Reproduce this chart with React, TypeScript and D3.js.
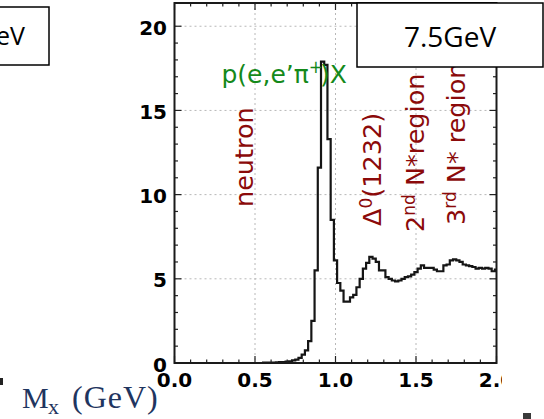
import React, { useEffect, useRef } from "react";
import * as d3 from "d3";

// histogram of missing mass, bins of 0.02 GeV centred on 0.00 ... 2.00
const binStart = -0.01;
const binWidth = 0.02;
const counts: number[] = [
    0, 0, 0, 0, 0, 0, 0, 0, 0, 0,
    0, 0, 0, 0, 0, 0, 0, 0, 0, 0,
    0, 0, 0, 0, 0, 0, 0, 0, 0.02, 0.02,
    0.03, 0.03, 0.04, 0.05, 0.06, 0.08, 0.1, 0.15, 0.2, 0.3,
    0.5, 0.75, 1.3, 2.5, 5.5, 11.6, 17.9, 17.7, 13.3, 8.5,
    6.1, 4.75, 4.3, 3.65, 3.65, 3.9, 4.05, 4.5, 5.0, 5.6,
    5.95, 6.3, 6.2, 6.0, 5.5, 5.5, 5.1, 5.0, 4.9, 4.85,
    4.9, 5.0, 5.1, 5.15, 5.25, 5.4, 5.6, 5.8, 5.65, 5.65,
    5.65, 5.55, 5.45, 5.45, 5.8, 5.85, 6.1, 6.15, 6.1, 6.0,
    5.85, 5.8, 5.75, 5.7, 5.6, 5.65, 5.6, 5.65, 5.6, 5.45,
    5.55,
];

const xTicks = [0, 0.5, 1.0, 1.5, 2.0];
const yTicks = [0, 5, 10, 15, 20];
const regionLabels = ["neutron", "Δ", "2", "3"];
const beamLabel = "7.5GeV";
const leftBoxLabel = "eV";

const W = 544;
const H = 419;

const App: React.FC = () => {
    const svgRef = useRef<SVGSVGElement | null>(null);

    useEffect(() => {
        if (!svgRef.current) return;
        const svg = d3.select(svgRef.current);
        svg.selectAll("*").remove();

        const left = 174.5, right = 496.5, top = 3, bottom = 363;
        const x = d3.scaleLinear().domain([0, 2]).range([left, right]);
        const y = d3.scaleLinear().domain([0, 21.38]).range([bottom, top]);

        const defs = svg.append("defs");
        defs.append("clipPath").attr("id", "fig-clip")
            .append("rect").attr("x", 0).attr("y", 0).attr("width", 502).attr("height", H);
        defs.append("clipPath").attr("id", "plot-clip")
            .append("rect").attr("x", left).attr("y", top).attr("width", right - left).attr("height", bottom - top);

        const fig = svg.append("g").attr("clip-path", "url(#fig-clip)");

        // grid
        const grid = fig.append("g")
            .attr("stroke", "#b8b8b8").attr("stroke-width", 1).attr("stroke-dasharray", "2,3");
        xTicks.slice(1, -1).forEach((t) => {
            grid.append("line").attr("x1", x(t)).attr("x2", x(t)).attr("y1", top).attr("y2", bottom);
        });
        yTicks.slice(1).forEach((t) => {
            grid.append("line").attr("x1", left).attr("x2", right).attr("y1", y(t)).attr("y2", y(t));
        });

        // histogram as a step line
        const pts: [number, number][] = [[binStart, 0]];
        counts.forEach((c, i) => {
            const x0 = binStart + i * binWidth;
            pts.push([x0, c], [x0 + binWidth, c]);
        });
        pts.push([binStart + counts.length * binWidth, 0]);
        const line = d3.line<[number, number]>().x((d) => x(d[0])).y((d) => y(d[1]));
        fig.append("path")
            .attr("clip-path", "url(#plot-clip)")
            .attr("d", line(pts))
            .attr("fill", "none")
            .attr("stroke", "#151515")
            .attr("stroke-width", 2.2)
            .attr("stroke-linejoin", "miter");

        // ticks (inward, mirrored)
        const tk = fig.append("g").attr("stroke", "#222").attr("stroke-width", 1.2);
        d3.range(0, 2.0001, 0.1).forEach((t) => {
            const major = xTicks.some((m) => Math.abs(m - t) < 1e-6);
            const len = major ? 7 : 3.5;
            tk.append("line").attr("x1", x(t)).attr("x2", x(t)).attr("y1", bottom).attr("y2", bottom - len);
            tk.append("line").attr("x1", x(t)).attr("x2", x(t)).attr("y1", top).attr("y2", top + len);
        });
        d3.range(0, 21, 1).forEach((t) => {
            const major = t % 5 === 0;
            const len = major ? 7 : 3.5;
            tk.append("line").attr("x1", left).attr("x2", left + len).attr("y1", y(t)).attr("y2", y(t));
            tk.append("line").attr("x1", right).attr("x2", right - len).attr("y1", y(t)).attr("y2", y(t));
        });

        // frame
        fig.append("rect")
            .attr("x", left).attr("y", top)
            .attr("width", right - left).attr("height", bottom - top)
            .attr("fill", "none").attr("stroke", "#1a1a1a").attr("stroke-width", 2);

        // tick labels
        const lab = fig.append("g")
            .attr("font-family", "'DejaVu Sans', sans-serif")
            .attr("font-weight", "bold")
            .attr("font-size", 20)
            .attr("fill", "#000");
        xTicks.forEach((t) => {
            lab.append("text").attr("x", x(t)).attr("y", 386.5).attr("text-anchor", "middle").text(t.toFixed(1));
        });
        yTicks.forEach((t) => {
            lab.append("text").attr("x", 167).attr("y", y(t) + 8.5).attr("text-anchor", "end").text(String(t));
        });

        // reaction label
        const react = fig.append("text")
            .attr("x", 221.5).attr("y", 83)
            .attr("font-family", "'DejaVu Sans', sans-serif")
            .attr("font-size", 25)
            .attr("fill", "#14891a");
        react.append("tspan").text("p(e,e’π");
        react.append("tspan").attr("font-size", 17).attr("dy", -10).text("+");
        react.append("tspan").attr("dy", 10).attr("dx", -3).text(")X");

        // region labels, rotated
        const red = "#8b0a0a";
        const rot = (px: number, py: number) =>
            fig.append("text")
                .attr("transform", `translate(${px},${py}) rotate(-90)`)
                .attr("font-family", "'DejaVu Sans', sans-serif")
                .attr("font-size", 25.5)
                .attr("fill", red);

        rot(252.5, 207).text(regionLabels[0]);

        const delta = rot(381, 226);
        delta.append("tspan").text(regionLabels[1]);
        delta.append("tspan").attr("font-size", 17).attr("dy", -9).text("0");
        delta.append("tspan").attr("dy", 9).text("(1232)");

        const second = rot(424, 232);
        second.append("tspan").text(regionLabels[2]);
        second.append("tspan").attr("font-size", 17).attr("dy", -9).text("nd");
        second.append("tspan").attr("dy", 9).text(" N*region");

        const third = rot(465, 225);
        third.append("tspan").text(regionLabels[3]);
        third.append("tspan").attr("font-size", 17).attr("dy", -9).text("rd");
        third.append("tspan").attr("dy", 9).text(" N* region");

        // slide overlays
        svg.append("rect")
            .attr("x", 357).attr("y", 3).attr("width", 186).attr("height", 64)
            .attr("fill", "#fff").attr("stroke", "#000").attr("stroke-width", 1.5);
        svg.append("text")
            .attr("x", 450).attr("y", 47).attr("text-anchor", "middle")
            .attr("font-family", "'Open Sans', sans-serif").attr("font-size", 28)
            .attr("fill", "#000").text(beamLabel);

        svg.append("rect")
            .attr("x", -10).attr("y", 7).attr("width", 59).attr("height", 58)
            .attr("fill", "#fff").attr("stroke", "#000").attr("stroke-width", 1.5);
        svg.append("text")
            .attr("x", 25).attr("y", 45).attr("text-anchor", "end")
            .attr("font-family", "'Open Sans', sans-serif").attr("font-size", 25)
            .attr("fill", "#000").text(leftBoxLabel);

        const navy = "#1f3560";
        const ax = svg.append("g").attr("font-family", "'Liberation Serif', serif").attr("fill", navy);
        ax.append("text").attr("x", 22).attr("y", 408).attr("font-size", 30).text("M");
        ax.append("text").attr("x", 48).attr("y", 414).attr("font-size", 22).text("x");
        ax.append("text").attr("x", 72).attr("y", 408).attr("font-size", 32)
            .attr("letter-spacing", 1).text("(GeV)");

        svg.append("rect").attr("x", 523).attr("y", 413).attr("width", 8).attr("height", 6).attr("fill", "#3a3a3a");
        svg.append("rect").attr("x", 0).attr("y", 378).attr("width", 3).attr("height", 7).attr("fill", "#222");
    }, []);

    return (
        <svg
            ref={svgRef}
            width={W}
            height={H}
            style={{ position: "absolute", left: 0, top: 0, display: "block", background: "#fff" }}
        />
    );
};

export default App;
